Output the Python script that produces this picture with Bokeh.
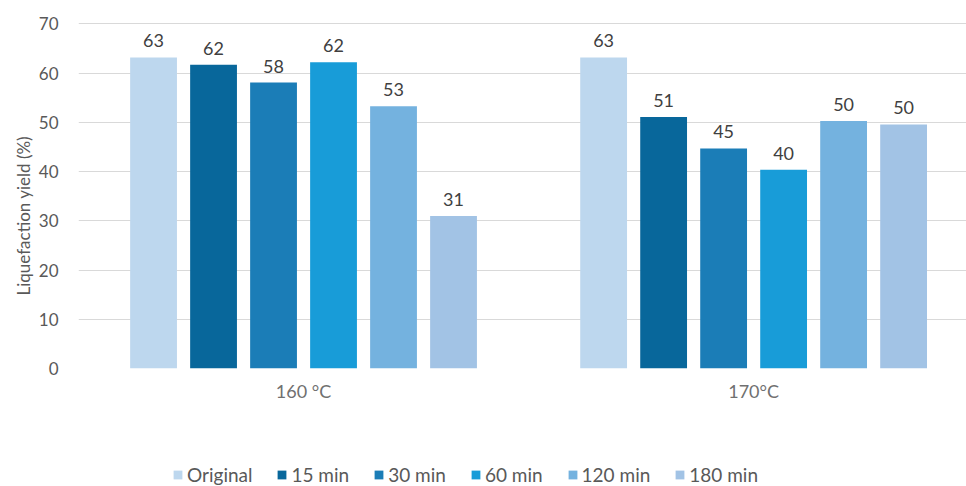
from bokeh.plotting import figure
from bokeh.layouts import column
from bokeh.models import (ColumnDataSource, Legend, LegendItem, LabelSet,
                          FixedTicker, Range1d, Title)
from bokeh.core.properties import value
from bokeh.embed import file_html
from bokeh.resources import INLINE

# Data
temperatures = ["160 °C", "170°C"]
series = ["Original", "15 min", "30 min", "60 min", "120 min", "180 min"]
yield_160 = [63.2, 61.7, 58.1, 62.2, 53.3, 31.0]
yield_170 = [63.2, 51.1, 44.7, 40.4, 50.3, 49.6]
colors = ["#BDD7EE", "#08679B", "#1B7DB7", "#189CD8", "#74B2DF", "#A2C3E5"]
y_ticks = [0, 10, 20, 30, 40, 50, 60, 70]
y_label = "Liquefaction yield (%)"

FONT = "Lato"
TEXT = "#595959"

# Main bar chart
p = figure(width=966, height=430, output_backend="svg", toolbar_location=None,
           x_range=Range1d(-0.5, 1.473), y_range=Range1d(0, 70.3),
           min_border_left=78, min_border_right=0, min_border_top=22,
           min_border_bottom=62)
p.outline_line_color = None
p.background_fill_color = "white"
p.border_fill_color = "white"

# Legend strip underneath the chart; its bar renderers are hidden and only
# provide the legend swatches
lg = figure(width=966, height=56, output_backend="svg", toolbar_location=None,
            x_range=Range1d(0, 1), y_range=Range1d(0, 1),
            min_border=0, min_border_left=0, min_border_right=0,
            min_border_top=0, min_border_bottom=0,
            x_axis_location=None, y_axis_location=None)
lg.outline_line_color = None
lg.xgrid.grid_line_color = None
lg.ygrid.grid_line_color = None

step = 0.1333
width = 0.104
items = []
for j, name in enumerate(series):
    vals = [yield_160[j], yield_170[j]]
    src = ColumnDataSource(dict(
        x=[i + (j - 2.5) * step for i in range(len(temperatures))],
        top=vals,
        lbl=[f"{round(v):d}" for v in vals],
    ))
    p.vbar(x="x", top="top", width=width, bottom=0, source=src,
           fill_color=colors[j], line_color=None)
    p.add_layout(LabelSet(x="x", y="top", text="lbl", source=src,
                          y_offset=10, text_align="center",
                          text_baseline="bottom", text_font=value(FONT),
                          text_font_size="18px", text_color="#404040"))
    r = lg.vbar(x="x", top="top", width=width, bottom=0, source=src,
                fill_color=colors[j], line_color=None, visible=False)
    items.append(LegendItem(label=name, renderers=[r]))

p.xaxis.ticker = FixedTicker(ticks=[0, 1])
p.xaxis.major_label_overrides = {0: temperatures[0], 1: temperatures[1]}
p.xaxis.axis_line_color = None
p.xaxis.major_tick_line_color = None
p.xaxis.minor_tick_line_color = None
p.xaxis.major_label_standoff = 5
p.xaxis.major_label_text_font = FONT
p.xaxis.major_label_text_font_size = "18px"
p.xaxis.major_label_text_color = "#707070"

p.yaxis.ticker = FixedTicker(ticks=y_ticks)
p.yaxis.axis_line_color = None
p.yaxis.major_tick_line_color = None
p.yaxis.minor_tick_line_color = None
p.yaxis.major_label_standoff = 14
p.yaxis.major_label_text_font = FONT
p.yaxis.major_label_text_font_size = "17px"
p.yaxis.major_label_text_color = TEXT

# vertical axis title, starting a little above the frame bottom
p.add_layout(Title(text=y_label, align="left", offset=73, standoff=4,
                   text_font=FONT, text_font_size="17px",
                   text_font_style="normal", text_color=TEXT), "left")

p.xgrid.grid_line_color = None
p.ygrid.grid_line_color = "#D9D9D9"
p.ygrid.grid_line_width = 1

legend = Legend(items=items, orientation="horizontal", location=(94, 0),
                glyph_width=11, glyph_height=11, label_standoff=4, spacing=24,
                padding=0, margin=0, label_height=14,
                label_text_font=FONT, label_text_font_size="19px",
                label_text_color=TEXT, border_line_color=None,
                background_fill_alpha=0, inactive_fill_alpha=0,
                click_policy="none")
lg.add_layout(legend, "center")

open("out.html", "w").write(file_html(column(p, lg, spacing=0), INLINE))
